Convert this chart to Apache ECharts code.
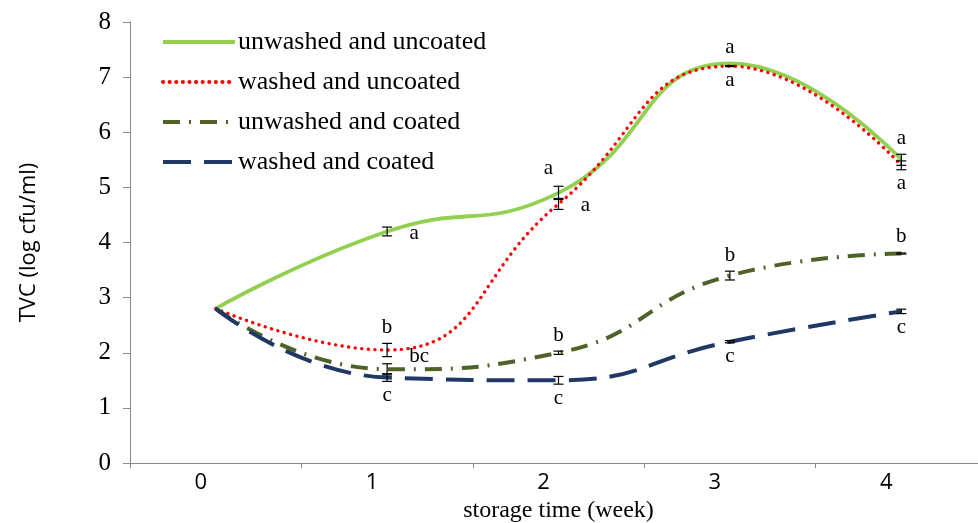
<!DOCTYPE html>
<html>
<head>
<meta charset="utf-8">
<script src="https://cdn.jsdelivr.net/npm/echarts@6/dist/echarts.min.js"></script>
<style>html,body{margin:0;padding:0;background:#fff;}#c{width:978px;height:523px;}</style>
</head>
<body>
<div id="c"></div>
<script>
var weeks = ['0', '1', '2', '3', '4'];
var seriesNames = ['unwashed and uncoated', 'washed and uncoated', 'unwashed and coated', 'washed and coated'];
var unwashedUncoated = [2.8, 4.2, 4.9, 7.25, 5.5];
var washedUncoated   = [2.8, 2.05, 4.7, 7.2, 5.4];
var unwashedCoated   = [2.8, 1.7, 2.0, 3.4, 3.8];
var washedCoated     = [2.8, 1.55, 1.5, 2.2, 2.75];
var errUnwashedUncoated = [0, 0.08, 0.12, 0, 0.1];
var errWashedUncoated   = [0, 0.12, 0.1, 0.01, 0.08];
var errUnwashedCoated   = [0, 0.1, 0.03, 0.08, 0.01];
var errWashedCoated     = [0, 0.07, 0.07, 0.02, 0.04];
var lettersUnwashedUncoated = ['', 'a', 'a', 'a', 'a'];
var lettersWashedUncoated   = ['', 'b', 'a', 'a', 'a'];
var lettersUnwashedCoated   = ['', 'bc', 'b', 'b', 'b'];
var lettersWashedCoated     = ['', 'c', 'c', 'c', 'c'];
var placeUnwashedUncoated = ['', 'right', 'topleft', 'top', 'top'];
var placeWashedUncoated   = ['', 'top', 'right', 'bottom', 'bottom'];
var placeUnwashedCoated   = ['', 'rightup', 'top', 'top', 'top'];
var placeWashedCoated     = ['', 'bottom', 'bottom', 'bottom', 'bottom'];

var values = [unwashedUncoated, washedUncoated, unwashedCoated, washedCoated];
var errs = [errUnwashedUncoated, errWashedUncoated, errUnwashedCoated, errWashedCoated];
var letters = [lettersUnwashedUncoated, lettersWashedUncoated, lettersUnwashedCoated, lettersWashedCoated];
var places = [placeUnwashedUncoated, placeWashedUncoated, placeUnwashedCoated, placeWashedCoated];
var colors = ['#92D050', '#FF0000', '#4F6228', '#1F3864'];
var lineTypes = ['solid', [0.1, 6.5], [17, 9, 2, 9], [28, 13]];
var widths = [3.8, 3.4, 4, 4];
var caps = ['butt', 'round', 'butt', 'butt'];

var serif = '"Liberation Serif", "Times New Roman", serif';
var sans = '"Open Sans", "Liberation Sans", sans-serif';

var series = [];
values.forEach(function (vals, s) {
  series.push({
    name: seriesNames[s], type: 'line', data: vals, smooth: 0.5,
    symbol: 'none', z: 3 + s,
    lineStyle: { color: colors[s], width: widths[s], type: lineTypes[s], cap: caps[s] },
    itemStyle: { color: colors[s] }
  });
});
values.forEach(function (vals, s) {
  var data = vals.map(function (v, i) { return [i, v, errs[s][i], letters[s][i], places[s][i]]; });
  series.push({
    type: 'custom', z: 10, silent: true,
    data: data,
    renderItem: function (params, api) {
      var i = api.value(0), v = api.value(1), e = api.value(2);
      var p = api.coord([i, v]);
      var hi = api.coord([i, v + e]);
      var lo = api.coord([i, v - e]);
      var children = [];
      if (e > 0) {
        var st = { stroke: '#000', lineWidth: 1.2 };
        children.push({ type: 'line', shape: { x1: p[0], y1: hi[1], x2: p[0], y2: lo[1] }, style: st });
        children.push({ type: 'line', shape: { x1: p[0] - 5, y1: hi[1], x2: p[0] + 5, y2: hi[1] }, style: st });
        children.push({ type: 'line', shape: { x1: p[0] - 5, y1: lo[1], x2: p[0] + 5, y2: lo[1] }, style: st });
      }
      var txt = data[params.dataIndex][3];
      var pl = data[params.dataIndex][4];
      if (txt) {
        var tx = p[0], ty = p[1];
        if (pl === 'top') { ty = hi[1] - 16; }
        else if (pl === 'bottom') { ty = lo[1] + 14; }
        else if (pl === 'right') { tx = p[0] + 27; ty = p[1] + 2; }
        else if (pl === 'rightup') { tx = p[0] + 32; ty = p[1] - 13; }
        else if (pl === 'topleft') { tx = p[0] - 10; ty = p[1] - 24; }
        children.push({ type: 'text', style: { text: txt, x: tx, y: ty, align: 'center', verticalAlign: 'middle', font: '21px ' + serif, fill: '#000' } });
      }
      return { type: 'group', children: children };
    }
  });
});

var chart = echarts.init(document.getElementById('c'));
chart.setOption({
  animation: false,
  backgroundColor: '#fff',
  grid: { left: 130, width: 857, top: 22, bottom: 60, outerBoundsMode: 'none', containLabel: false },
  legend: {
    data: seriesNames, orient: 'vertical', left: 156, top: 24,
    itemWidth: 72, itemHeight: 14, itemGap: 14,
    itemStyle: { opacity: 0 },
    lineStyle: { width: 4 },
    textStyle: { fontFamily: serif, fontSize: 26, color: '#000', padding: [0, 0, 0, -2] }
  },
  xAxis: {
    type: 'category', data: weeks, boundaryGap: true,
    name: 'storage time (week)', nameLocation: 'middle', nameGap: 34,
    nameTextStyle: { fontFamily: serif, fontSize: 24, color: '#000', padding: [0, 0, 0, 0] },
    axisLine: { lineStyle: { color: '#888', width: 1 } },
    axisTick: { show: true, length: 5, lineStyle: { color: '#888' } },
    axisLabel: { fontFamily: sans, fontSize: 22, color: '#000', margin: 9, padding: [0, 30, 0, 0] }
  },
  yAxis: {
    type: 'value', min: 0, max: 8, interval: 1,
    name: 'TVC (log cfu/ml)', nameLocation: 'middle', nameGap: 90, nameRotate: 90,
    nameTextStyle: { fontFamily: sans, fontSize: 22, color: '#000' },
    axisLine: { show: true, lineStyle: { color: '#888', width: 1 } },
    axisTick: { show: true, length: 7, lineStyle: { color: '#888' } },
    splitLine: { show: false },
    axisLabel: { fontFamily: serif, fontSize: 25, color: '#000', margin: 19 }
  },
  series: series
});
</script>
</body>
</html>
